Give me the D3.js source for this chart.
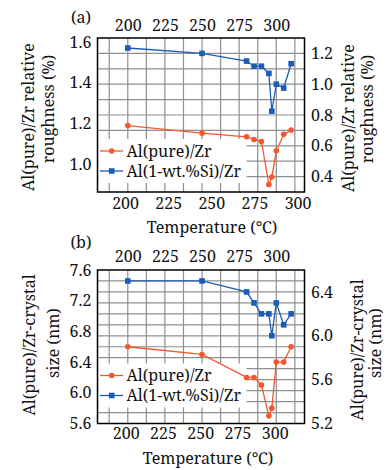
<!DOCTYPE html>
<html>
<head>
<meta charset="utf-8">
<script src="https://cdn.jsdelivr.net/npm/d3@7"></script>
<style>
body { margin: 0; background: #fff; }
text { font-family: "Noto Serif", "Liberation Serif", serif; fill: #111; }
</style>
</head>
<body>
<svg id="chart" width="387" height="470"></svg>
<script>
// temperatures (top axis) shared by both panels
var temps = [200, 250, 280, 285, 290, 295, 297, 300, 305, 310];
// panel (a): relative roughness
var roughPure = [1.19, 1.153, 1.135, 1.122, 1.112, 0.901, 0.938, 1.066, 1.147, 1.168]; // left axis
var roughSi = [1.235, 1.2, 1.15, 1.117, 1.117, 1.07, 0.825, 1.0, 0.975, 1.133];        // right axis
// panel (b): crystal size
var sizePure = [6.6, 6.5, 6.2, 6.2, 6.1, 5.7, 5.8, 6.4, 6.4, 6.6];   // left axis
var sizeSi = [6.5, 6.5, 6.4, 6.3, 6.2, 6.2, 6.0, 6.3, 6.1, 6.2];     // right axis

var tempTicks = [200, 225, 250, 275, 300];
var roughLeftTicks = [1.0, 1.2, 1.4, 1.6];
var roughRightTicks = [0.4, 0.6, 0.8, 1.0, 1.2];
var sizeLeftTicks = [5.6, 6.0, 6.4, 6.8, 7.2, 7.6];
var sizeRightTicks = [5.2, 5.6, 6.0, 6.4];
var seriesNames = ["Al(pure)/Zr", "Al(1-wt.%Si)/Zr"];
var colors = ["#f4572d", "#1d5cb4"];

var svg = d3.select("#chart");
var L = 97.5, R = 304.5, FS = 16;
var FONT = "'Noto Serif', 'Liberation Serif', serif";

function rot_label(g, txt, x, y) {
	g.append("text")
		.attr("transform", "translate(" + x + "," + y + ")rotate(-90)")
		.attr("text-anchor", "middle")
		.attr("dy", "0.35em")
		.style("font-family", FONT)
		.style("font-size", FS + "px")
		.text(txt);
}

function draw_panel(p) {
	var g = svg.append("g");
	var xTop = d3.scaleLinear().domain(p.topDom).range([L, R]);
	var xBot = d3.scaleLinear().domain(p.botDom).range([L, R]);
	var yL = d3.scaleLinear().domain(p.leftDom).range([p.bottom, p.top]);
	var yR = d3.scaleLinear().domain(p.rightDom).range([p.bottom, p.top]);

	// grid follows top axis (12.5 steps) and right axis (0.1 steps)
	g.selectAll(".vg").data(d3.range(187.5, 313, 12.5)).enter().append("line")
		.attr("x1", function(d){return xTop(d)}).attr("x2", function(d){return xTop(d)})
		.attr("y1", p.top).attr("y2", p.bottom)
		.style("stroke", "#8f8f8f").style("stroke-width", 1.2);
	g.selectAll(".hg").data(d3.range(1, Math.round((p.rightDom[1] - p.rightDom[0]) * 10)))
		.enter().append("line")
		.attr("x1", L).attr("x2", R)
		.attr("y1", function(d){return yR(p.rightDom[0] + d / 10)})
		.attr("y2", function(d){return yR(p.rightDom[0] + d / 10)})
		.style("stroke", "#8f8f8f").style("stroke-width", 1.2);

	// legend background hides the grid
	g.append("rect").attr("x", L + 1).attr("y", p.legY - 12)
		.attr("width", 148).attr("height", 44).attr("fill", "#fff");

	g.append("rect").attr("x", L).attr("y", p.top)
		.attr("width", R - L).attr("height", p.bottom - p.top)
		.attr("fill", "none").style("stroke", "#000").style("stroke-width", 1.5);

	var series = [{v: p.pure, y: yL}, {v: p.si, y: yR}];
	series.forEach(function(s, i) {
		var pts = temps.map(function(t, j){return [xTop(t), s.y(s.v[j])]});
		g.append("path").attr("d", d3.line()(pts))
			.attr("fill", "none").style("stroke", colors[i]).style("stroke-width", 1.3);
		if (i == 0) {
			g.selectAll(".c" + i).data(pts).enter().append("circle")
				.attr("cx", function(d){return d[0]}).attr("cy", function(d){return d[1]})
				.attr("r", 2.8).attr("fill", colors[i]);
		} else {
			g.selectAll(".s" + i).data(pts).enter().append("rect")
				.attr("x", function(d){return d[0] - 2.8}).attr("y", function(d){return d[1] - 2.8})
				.attr("width", 5.6).attr("height", 5.6).attr("fill", colors[i]);
		}
		// legend entry
		var ly = p.legY + i * 20;
		g.append("line").attr("x1", 100).attr("x2", 123).attr("y1", ly).attr("y2", ly)
			.style("stroke", colors[i]).style("stroke-width", 1.3);
		if (i == 0) {
			g.append("circle").attr("cx", 111.7).attr("cy", ly).attr("r", 2.8).attr("fill", colors[i]);
		} else {
			g.append("rect").attr("x", 108.9).attr("y", ly - 2.8).attr("width", 5.6).attr("height", 5.6)
				.attr("fill", colors[i]);
		}
		g.append("text").attr("x", 126.5).attr("y", ly).attr("dy", "0.35em")
			.style("font-family", FONT).style("font-size", FS + "px").text(seriesNames[i]);
	});

	// axes
	var axes = [
		[d3.axisTop(xTop).tickValues(tempTicks).tickPadding(p.topPad), "translate(0," + p.top + ")"],
		[d3.axisBottom(xBot).tickValues(tempTicks).tickPadding(p.botPad), "translate(0," + p.bottom + ")"],
		[d3.axisLeft(yL).tickValues(p.leftTicks).tickFormat(d3.format(".1f")).tickPadding(6), "translate(" + L + ",0)"],
		[d3.axisRight(yR).tickValues(p.rightTicks).tickFormat(d3.format(".1f")).tickPadding(6.5), "translate(" + R + ",0)"]
	];
	axes.forEach(function(a) {
		var ax = g.append("g").attr("transform", a[1]).call(a[0].tickSize(0));
		ax.attr("font-family", null);
		ax.select(".domain").remove();
		ax.selectAll("text").style("font-family", FONT)
			.style("font-size", FS + "px").attr("fill", "#111");
	});

	g.append("text").attr("x", 81).attr("y", p.tagY).attr("dy", "0.35em")
		.attr("text-anchor", "middle").style("font-family", FONT).style("font-size", FS + "px").text(p.tag);
	g.append("text").attr("x", p.xTitleX).attr("y", p.xTitleY).attr("dy", "0.35em")
		.attr("text-anchor", "middle").style("font-family", FONT).style("font-size", FS + "px")
		.text("Temperature (℃)");

	rot_label(g, p.ylab[0], p.yl1[0], p.yl1[1]);
	rot_label(g, p.ylab[1], p.yl2[0], p.yl2[1]);
	rot_label(g, p.ylab[0], p.yr1[0], p.yr1[1]);
	rot_label(g, p.ylab[1], p.yr2[0], p.yr2[1]);
}

draw_panel({
	tag: "(a)", tagY: 17, top: 38, bottom: 192,
	topDom: [179.6, 319], botDom: [184, 304],
	leftDom: [0.864, 1.62], rightDom: [0.3, 1.3],
	leftTicks: roughLeftTicks, rightTicks: roughRightTicks,
	pure: roughPure, si: roughSi,
	topPad: 7, botPad: 6, legY: 151,
	xTitleX: 212, xTitleY: 227,
	ylab: ["Al(pure)/Zr relative", "roughness (%)"],
	yl1: [28, 117], yl2: [48, 109], yr1: [348, 118], yr2: [367, 109]
});

draw_panel({
	tag: "(b)", tagY: 242, top: 270, bottom: 423.5,
	topDom: [179.6, 319], botDom: [181, 320],
	leftDom: [5.6, 7.6], rightDom: [5.2, 6.6],
	leftTicks: sizeLeftTicks, rightTicks: sizeRightTicks,
	pure: sizePure, si: sizeSi,
	topPad: 8, botPad: 4.5, legY: 375.5,
	xTitleX: 208, xTitleY: 458,
	ylab: ["Al(pure)/Zr-crystal", "size (nm)"],
	yl1: [29, 345], yl2: [53, 343], yr1: [357, 350], yr2: [375, 343]
});
</script>
</body>
</html>
